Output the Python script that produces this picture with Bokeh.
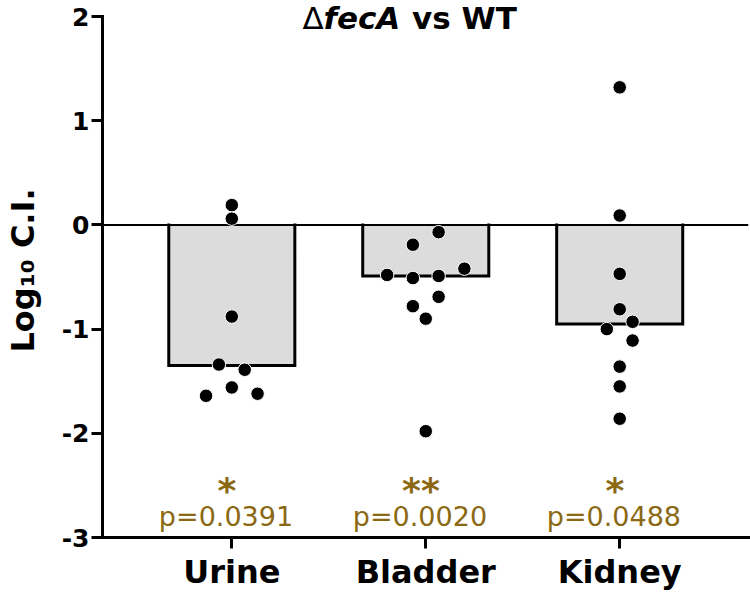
import math
from bokeh.plotting import figure
from bokeh.models import Range1d, FixedTicker, Label
from bokeh.core.properties import value
from bokeh.embed import file_html
from bokeh.resources import INLINE

# ---------------- data ----------------
categories = ["Urine", "Bladder", "Kidney"]
bar_values = [-1.35, -0.49, -0.95]          # medians (bar heights)

urine_ci = [0.19, 0.06, -0.88, -1.34, -1.39, -1.56, -1.64, -1.62]
urine_slot = [0, 0, 0, -1, 1, 0, -2, 2]      # swarm column of each point
bladder_ci = [-0.07, -0.19, -0.42, -0.48, -0.51, -0.49, -0.69, -0.78, -0.90, -1.98]
bladder_slot = [1, -1, 3, -3, -1, 1, 1, -1, 0, 0]
kidney_ci = [1.32, 0.09, -0.47, -0.81, -0.93, -1.00, -1.11, -1.36, -1.55, -1.86]
kidney_slot = [0, 0, 0, 0, 1, -1, 1, 0, 0, 0]

stars = ["*", "**", "*"]
p_values = ["p=0.0391", "p=0.0020", "p=0.0488"]
y_ticks = [-3, -2, -1, 0, 1, 2]
y_tick_labels = ["-3", "-2", "-1", "0", "1", "2"]

# ---------------- layout ----------------
W, H = 750, 597
LEFT, RIGHT, TOP, BOTTOM = 96, 2, 3, 60
PXU_Y = 104.2                 # pixels per y unit
X0 = 1 - 0.6667
X1 = X0 + (W - LEFT - RIGHT) / 195.75
Y0 = -3
Y1 = 2 + 13 / PXU_Y           # room above the axis top for the title
FW = W - LEFT - RIGHT

def fx(px):   # figure pixel x -> data x
    return X0 + (px - LEFT) / FW * (X1 - X0)

def fy(py):   # figure pixel y -> data y
    return Y1 - (py - TOP) / PXU_Y

def wx(px):   # pixel width -> data width (x)
    return px / FW * (X1 - X0)

GOLD = "#8B6914"
FONT = "DejaVu Sans"
BAR_W = 0.65
STEP = 0.0664

p = figure(width=W, height=H, x_range=Range1d(X0, X1), y_range=Range1d(Y0, Y1),
           output_backend="svg", toolbar_location=None,
           min_border_left=LEFT, min_border_right=RIGHT,
           min_border_top=TOP, min_border_bottom=BOTTOM)
p.outline_line_color = None
p.grid.visible = False
p.background_fill_color = "white"

xc = [i + 1 for i in range(len(categories))]

# bars (fill) and their open outline
p.vbar(x=xc, top=0, bottom=bar_values, width=BAR_W,
       fill_color="#dcdcdc", line_color=None)
bx = [[x - BAR_W / 2, x - BAR_W / 2, x + BAR_W / 2, x + BAR_W / 2] for x in xc]
by = [[0, v, v, 0] for v in bar_values]
p.multi_line(xs=bx, ys=by, line_color="black", line_width=3,
             line_join="miter", line_cap="square")

# zero line
p.segment(x0=X0, y0=0, x1=X1, y1=0, line_color="black", line_width=2)

# points
for i, (vals, slots) in enumerate([(urine_ci, urine_slot),
                                   (bladder_ci, bladder_slot),
                                   (kidney_ci, kidney_slot)]):
    px = [xc[i] + s * STEP for s in slots]
    p.scatter(x=px, y=vals, size=13.5, fill_color="black",
              line_color="white", line_width=1)

# significance annotations
p.text(x=[x - 0.025 for x in xc], y=-2.552, text=stars,
       text_font=value(FONT), text_font_size="36px", text_font_style="bold",
       text_color=GOLD, text_align="center", text_baseline="alphabetic")
p.text(x=[x - 0.03 for x in xc], y=-2.802, text=p_values,
       text_font=value(FONT), text_font_size="27px", text_color=GOLD,
       text_align="center", text_baseline="alphabetic")

# axes
for ax in (p.xaxis, p.yaxis):
    ax.axis_line_width = 3
    ax.axis_line_cap = "square"
    ax.major_tick_line_width = 3
    ax.major_tick_out = 11
    ax.major_tick_in = 0
    ax.minor_tick_line_color = None
    ax.major_label_text_font = FONT
    ax.major_label_text_font_style = "bold"
    ax.major_label_text_color = "black"

p.xaxis.ticker = FixedTicker(ticks=xc)
p.xaxis.major_label_overrides = {x: c for x, c in zip(xc, categories)}
p.xaxis.major_label_text_font_size = "32px"
p.xaxis.major_label_standoff = 4

p.yaxis.bounds = (y_ticks[0], y_ticks[-1])
p.yaxis.ticker = FixedTicker(ticks=y_ticks)
p.yaxis.major_label_overrides = {t: s for t, s in zip(y_ticks, y_tick_labels)}
p.yaxis.major_label_text_font_size = "25px"
p.yaxis.major_label_standoff = 2
p.yaxis.axis_label = "Log\u2081\u2080 C.I."
p.yaxis.axis_label_text_font = FONT
p.yaxis.axis_label_text_font_style = "bold"
p.yaxis.axis_label_text_font_size = "32px"
p.yaxis.axis_label_text_color = "black"
p.yaxis.axis_label_standoff = 17

# title: "ΔfecA vs WT"
TF = 31
w_delta = 0.684 * TF
w_feca = 2.482 * TF
w_space = 0.40 * TF
w_rest = 3.381 * TF
total = w_delta + w_feca + w_space + w_rest
x_start = fx(405.5 - total / 2)
yb = fy(29.5 - 0.38 * TF)
p.add_layout(Label(x=x_start, y=yb, text="Δ", text_font=FONT,
                   text_font_size=f"{TF}px", text_align="left",
                   text_baseline="alphabetic", text_color="black"))
p.add_layout(Label(x=x_start + wx(w_delta), y=yb, text="fecA", text_font=FONT,
                   text_font_size=f"{TF}px", text_font_style="bold italic",
                   text_align="left", text_baseline="alphabetic", text_color="black"))
p.add_layout(Label(x=x_start + wx(w_delta + w_feca + w_space), y=yb, text="vs WT",
                   text_font=FONT, text_font_size=f"{TF}px", text_font_style="bold",
                   text_align="left", text_baseline="alphabetic", text_color="black"))

open("out.html", "w").write(file_html(p, INLINE))
